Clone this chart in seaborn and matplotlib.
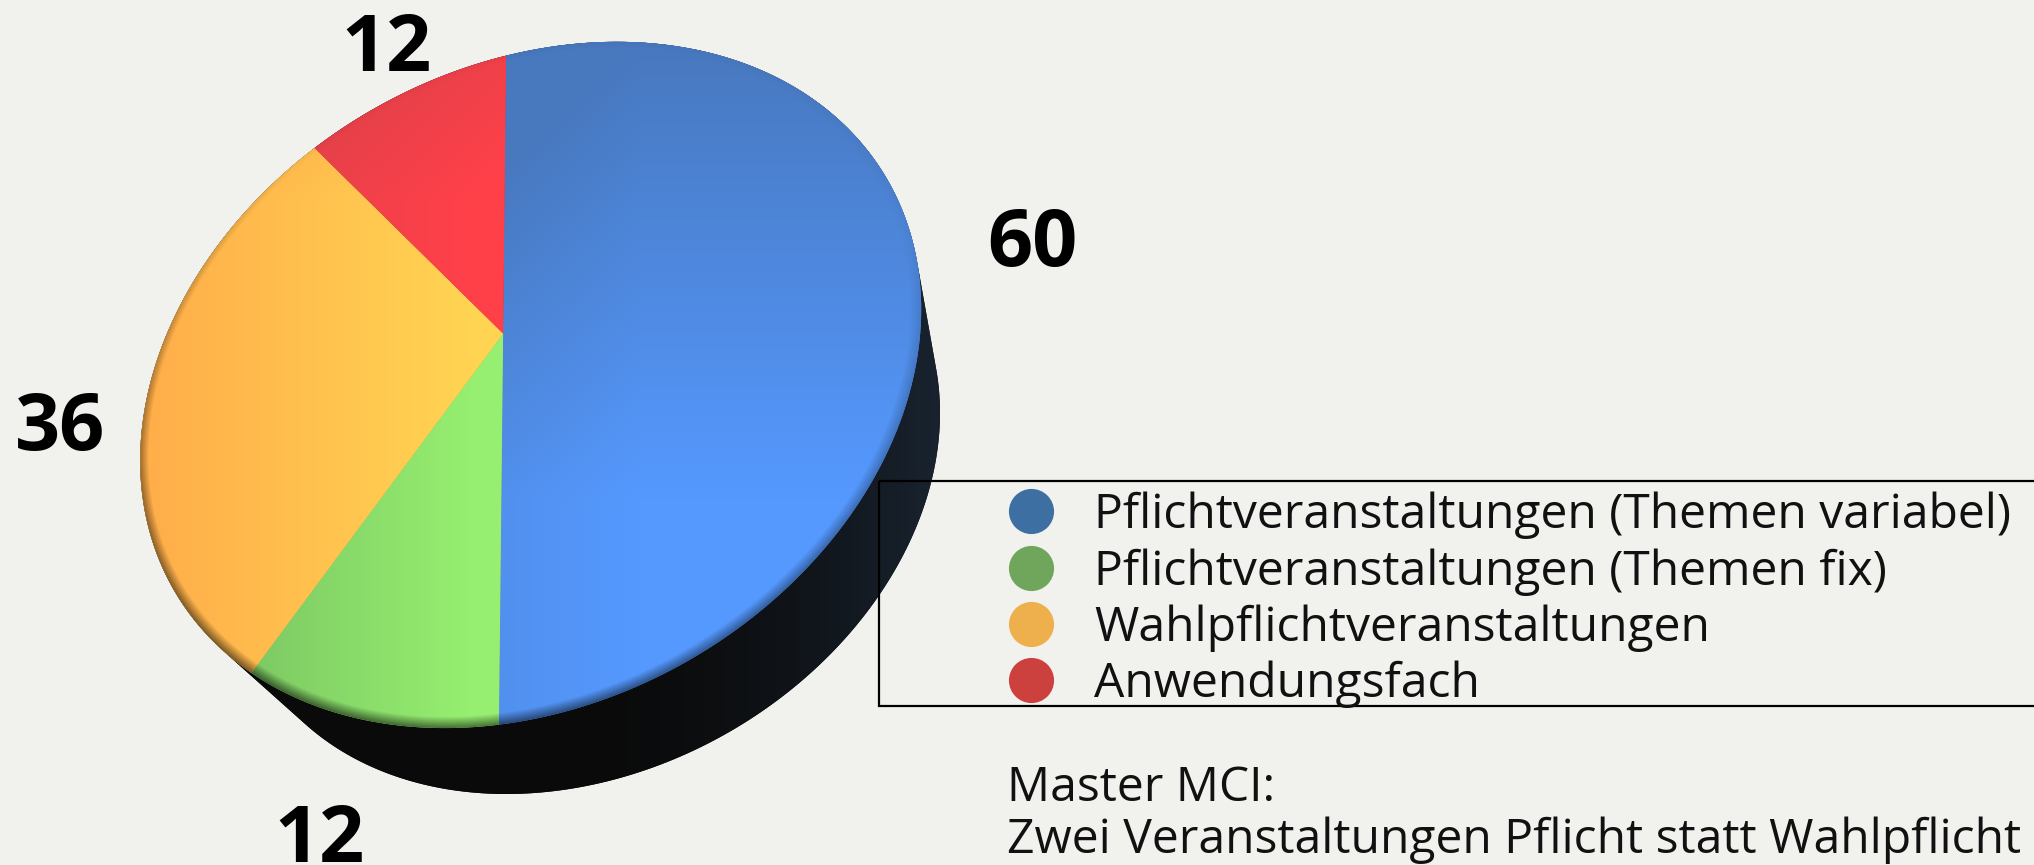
import numpy as np
import matplotlib
matplotlib.use('Agg')
import matplotlib.pyplot as plt
import seaborn as sns
from matplotlib.lines import Line2D
from matplotlib.patches import Rectangle
from matplotlib.path import Path

categories = ['Pflichtveranstaltungen (Themen variabel)', 'Pflichtveranstaltungen (Themen fix)',
              'Wahlpflichtveranstaltungen', 'Anwendungsfach']
values = [60, 12, 36, 12]
legend_colors = ['#3E6FA3', '#6FA65C', '#EEB04C', '#CC403E']
note = 'Master MCI:\nZwei Veranstaltungen Pflicht statt Wahlpflicht'

BG = '#F1F2EE'
W, H = 2034, 865
lit = ['#5599FF', '#96EF70', '#FFD452', '#FF4049']
shade = ['#4878BE', '#72B85E', '#FFAE4A', '#D8404A']
label_pos = [(1032, 266), (319, 862), (60, 450), (386, 71)]

sns.set_theme(style='white')
plt.rcParams['font.family'] = ['Open Sans', 'DejaVu Sans']
plt.rcParams['figure.facecolor'] = BG


def fit_homography(src, dst):
    rows = []
    for (x, y), (u, v) in zip(src, dst):
        rows.append([x, y, 1, 0, 0, 0, -u * x, -u * y, -u])
        rows.append([0, 0, 0, x, y, 1, -v * x, -v * y, -v])
    return np.linalg.svd(np.array(rows))[2][-1].reshape(3, 3)


def project(m, xy):
    p = np.c_[xy, np.ones(len(xy))] @ m.T
    return p[:, :2] / p[:, 2:]


def hull(points):
    pts = sorted(map(tuple, points))

    def half(seq):
        out = []
        for p in seq:
            while len(out) > 1:
                a, b = np.subtract(out[-1], out[-2]), np.subtract(p, out[-2])
                if a[0] * b[1] - a[1] * b[0] > 0:
                    break
                out.pop()
            out.append(p)
        return out[:-1]
    return np.array(half(pts) + half(pts[::-1]))


def rgb(c):
    return np.array(matplotlib.colors.to_rgb(c))


# tilt of the disc, from the slice corners in the picture
angles = np.radians([90, -90, -126, 126])
unit = np.r_[np.c_[np.cos(angles), np.sin(angles)], [[0, 0]]]
corners = [(507, 56), (499, 725), (252, 673), (314, 148), (502, 333)]
M = fit_homography(unit, corners)

fig = plt.figure(figsize=(W / 100, H / 100), dpi=100)
ax = fig.add_axes([0, 0, 1, 1])
wedges, _ = ax.pie(values, colors=lit, startangle=90, counterclock=False)
for w in wedges:
    t = np.radians(np.linspace(w.theta1, w.theta2, 160))
    arc = np.r_[[[0, 0]], np.c_[np.cos(t), np.sin(t)], [[0, 0]]]
    codes = [Path.MOVETO] + [Path.LINETO] * (len(arc) - 2) + [Path.CLOSEPOLY]
    w._path = Path(project(M, arc), codes)
    w.set_zorder(3)
    w.set_linewidth(0)

t = np.radians(np.linspace(0, 360, 400))
rim = project(M, np.c_[np.cos(t), np.sin(t)])
c0 = (rim.min(0) + rim.max(0)) / 2
low_scale = 0.91
low = (rim - c0) * low_scale + c0 + (np.array([940, 794]) - (c0 + (rim.max(0) - c0) * low_scale))

# pixel grid for the shading
X, Y = np.meshgrid(np.arange(W) + .5, np.arange(H) + .5)
extent = (0, W, H, 0)

side = ax.fill(*hull(np.r_[rim, low]).T, color='#0A0A0A', lw=0, zorder=1)[0]
s = np.clip((X - 550) / 380, 0, 1)[..., None] ** 2
ax.imshow(rgb('#0A0A0A') * (1 - s) + rgb('#18222E') * s, extent=extent, zorder=2, clip_path=side, aspect='auto')

light_blue = np.clip(np.maximum(0, (500 - Y) / 460) + np.maximum(0, (640 - X) / 520), 0, 1)
light_rest = np.clip((470 - X) / 320 + np.maximum(0, (200 - Y) / 300), 0, 1)
Mi = np.linalg.inv(M)
den = Mi[2, 0] * X + Mi[2, 1] * Y + Mi[2, 2]
ux = (Mi[0, 0] * X + Mi[0, 1] * Y + Mi[0, 2]) / den
uy = (Mi[1, 0] * X + Mi[1, 1] * Y + Mi[1, 2]) / den
r = np.maximum(np.hypot(ux, uy), 1e-6)
# soft dark edge, heavier at the bottom and left
edge = np.clip((r - 0.975) / 0.025, 0, 1) * np.clip(.35 - .6 * uy / r - .25 * ux / r, .06, 1) * .55
for i, (w, a, b) in enumerate(zip(wedges, lit, shade)):
    light = (light_blue if i == 0 else light_rest)[..., None]
    img = (rgb(a) * (1 - light) + rgb(b) * light) * (1 - edge[..., None])
    ax.imshow(img, extent=extent, zorder=4, clip_path=w, aspect='auto')

ax.set_xlim(0, W)
ax.set_ylim(H, 0)
ax.set_aspect('auto')

for v, (x, y) in zip(values, label_pos):
    ax.text(x, y, str(v), fontsize=57, fontweight='bold', color='black', ha='center', va='baseline', zorder=6)

ax.add_patch(Rectangle((879, 481), 1300, 225, fill=False, ec='black', lw=1.6, zorder=7))
handles = [Line2D([], [], ls='', marker='o', ms=32.5, mfc=c, mec='none') for c in legend_colors]
leg = ax.legend(handles, categories, loc='upper left', ncol=1,
                bbox_to_anchor=(879 / W, 1 - 482 / H), bbox_transform=fig.transFigure,
                fontsize=34.6, frameon=False, labelspacing=0.185, handlelength=5.93, handletextpad=-1.65,
                borderpad=0.2, borderaxespad=0, labelcolor='#111111')
leg.set_zorder(7)

ax.text(1007, 853, note, fontsize=34.6, color='#111111', ha='left', va='baseline', linespacing=1.115, zorder=6)

fig.savefig('out.png', dpi=100, facecolor=BG)
